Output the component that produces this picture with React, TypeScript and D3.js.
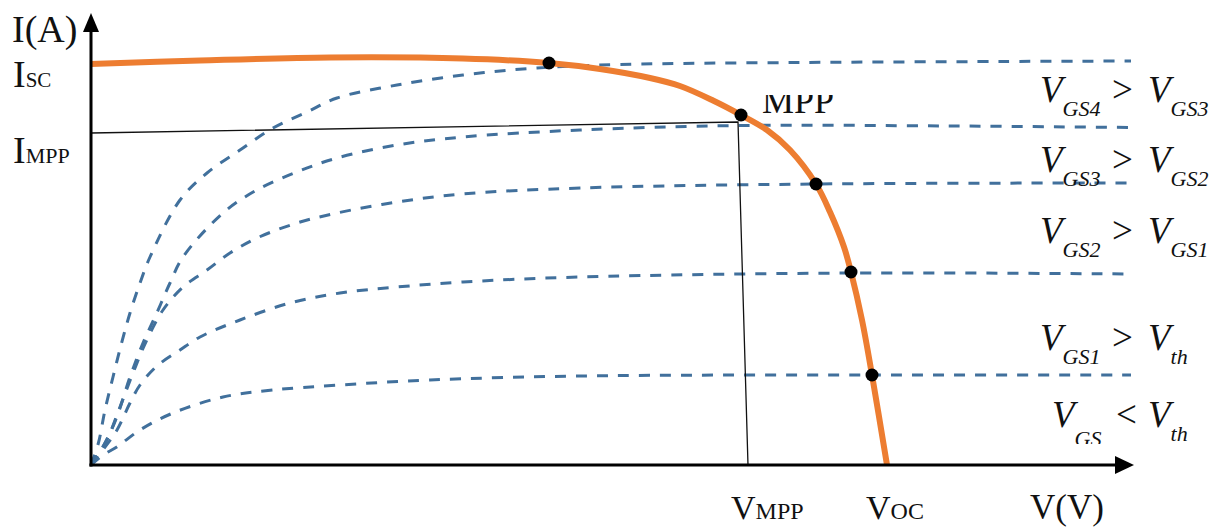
import * as d3 from 'd3'
import { useEffect, useRef } from 'react'

const W = 1220
const H = 527

// PV panel I-V curve (volts / amps)
const pvVolts = [0, 5.45, 11.95, 18.6, 22.9, 25.45, 27.95, 29.45, 31.1, 32.5, 33.8, 34.95, 36.25, 36.95, 37.65, 38.0, 38.55, 39.05, 39.8]
const pvAmps = [8.02, 8.09, 8.15, 8.13, 8.04, 7.92, 7.74, 7.58, 7.29, 7.0, 6.7, 6.3, 5.62, 5.06, 4.36, 3.86, 2.9, 1.8, 0]

// MOSFET output curves, one per gate voltage  [V, I]
const fetGS4: [number, number][] = [
  [0, 0], [0.37, 0.44], [0.7, 1.1], [1.1, 1.76], [1.53, 2.44], [1.95, 3.04], [2.45, 3.64],
  [2.95, 4.16], [4.45, 5.3], [5.8, 5.84], [7.45, 6.3], [9.1, 6.74], [10.8, 7.06], [12.3, 7.34],
  [15.3, 7.6], [18.6, 7.8], [21.95, 7.93], [26.45, 8.01], [35.45, 8.05], [45.45, 8.07], [52, 8.08],
]
const fetGS3: [number, number][] = [
  [0, 0], [0.7, 0.44], [1.29, 0.96], [1.95, 1.76], [2.6, 2.44], [3.29, 3.04], [3.95, 3.64],
  [4.6, 4.16], [6.6, 5.04], [8.29, 5.5], [10.29, 5.86], [12.3, 6.14], [15.3, 6.4], [18.6, 6.56],
  [24.45, 6.7], [32.5, 6.79], [42.95, 6.78], [52, 6.75],
]
const fetGS2: [number, number][] = [
  [0, 0], [0.79, 0.5], [1.45, 1.16], [2.1, 1.84], [2.79, 2.5], [3.6, 3.1], [4.6, 3.56],
  [5.8, 3.9], [6.95, 4.24], [8.3, 4.54], [10.3, 4.84], [12.3, 5.04], [15.3, 5.26], [18.6, 5.42],
  [24.45, 5.54], [36.25, 5.62], [52, 5.64],
]
const fetGS1: [number, number][] = [
  [0, 0], [0.7, 0.36], [1.3, 0.7], [1.95, 1.24], [2.45, 1.6], [3.3, 1.98], [4.45, 2.3],
  [5.45, 2.56], [7.45, 2.9], [9.95, 3.24], [12.45, 3.44], [15.3, 3.56], [18.6, 3.66],
  [24.45, 3.76], [38, 3.84], [52, 3.82],
]
const fetGS0: [number, number][] = [
  [0, 0], [0.6, 0.2], [1.29, 0.36], [2.45, 0.7], [4.1, 1.04], [6.6, 1.36], [9.1, 1.5],
  [12.45, 1.6], [16.95, 1.7], [24.45, 1.78], [39.05, 1.8], [52, 1.8],
]

// operating points where the PV curve meets each FET curve
const opVolts = [22.9, 32.5, 36.25, 38.0, 39.05]
const opAmps = [8.04, 7.0, 5.62, 3.86, 1.8]

// MPP projection lines
const mppGuide: [number, number][] = [[0, 6.64], [32.35, 6.86], [32.85, 0]]

const gateLabels = [
  ['GS4', '>', 'GS3'],
  ['GS3', '>', 'GS2'],
  ['GS2', '>', 'GS1'],
  ['GS1', '>', 'th'],
  ['GS', '<', 'th'],
]
const gateBaselines = [102, 172, 243, 350, 427]

const serif = "'Liberation Serif', 'Times New Roman', serif"

export default function App() {
  const ref = useRef<SVGSVGElement>(null)

  useEffect(() => {
    const svg = d3.select(ref.current)
    svg.selectAll('*').remove()

    const x = d3.scaleLinear().domain([0, 52]).range([91, 1131])
    const y = d3.scaleLinear().domain([0, 9]).range([465, 15])

    const defs = svg.append('defs')
    defs.append('clipPath').attr('id', 'mpp-clip')
      .append('rect').attr('x', 0).attr('y', 95).attr('width', W).attr('height', H)
    defs.append('clipPath').attr('id', 'gs-clip')
      .append('rect').attr('x', 0).attr('y', 0).attr('width', W).attr('height', 444)

    svg.append('rect').attr('width', W).attr('height', H).attr('fill', '#fff')

    const line = d3.line<[number, number]>()
      .x(d => x(d[0]))
      .y(d => y(d[1]))
      .curve(d3.curveCatmullRom.alpha(0.5))

    // FET curves
    svg.append('g')
      .selectAll('path')
      .data([fetGS4, fetGS3, fetGS2, fetGS1, fetGS0])
      .join('path')
      .attr('d', d => line(d))
      .attr('fill', 'none')
      .attr('stroke', '#41709c')
      .attr('stroke-width', 3)
      .attr('stroke-dasharray', '11 10')

    // MPP guides
    svg.append('path')
      .attr('d', d3.line<[number, number]>().x(d => x(d[0])).y(d => y(d[1]))(mppGuide))
      .attr('fill', 'none')
      .attr('stroke', '#111')
      .attr('stroke-width', 1.3)

    // PV curve
    const pv = pvVolts.map((v, i) => [v, pvAmps[i]] as [number, number])
    svg.append('path')
      .attr('d', line(pv))
      .attr('fill', 'none')
      .attr('stroke', '#ed7d31')
      .attr('stroke-width', 6)

    svg.append('g')
      .selectAll('circle')
      .data(opVolts)
      .join('circle')
      .attr('cx', d => x(d))
      .attr('cy', (_, i) => y(opAmps[i]))
      .attr('r', 6.5)
      .attr('fill', '#000')

    // axes
    const x0 = x(0)
    const y0 = y(0)
    svg.append('line')
      .attr('x1', x0).attr('x2', x0).attr('y1', y0 + 1.5).attr('y2', 28)
      .attr('stroke', '#000').attr('stroke-width', 3)
    svg.append('path')
      .attr('d', `M${x0},13 L${x0 - 8},32 L${x0 + 8},32 Z`)
      .attr('fill', '#000')
    svg.append('line')
      .attr('x1', x0 - 1.5).attr('x2', 1118).attr('y1', y0).attr('y2', y0)
      .attr('stroke', '#000').attr('stroke-width', 3)
    svg.append('path')
      .attr('d', `M1134,${y0} L1115,${y0 - 9} L1115,${y0 + 9} Z`)
      .attr('fill', '#000')

    // axis labels
    const label = (tx: number, ty: number, main: string, sub: string, size: number, subSize: number) => {
      const t = svg.append('text')
        .attr('x', tx).attr('y', ty)
        .attr('font-family', serif).attr('font-size', size).attr('fill', '#111')
      t.append('tspan').text(main)
      if (sub) t.append('tspan').attr('font-size', subSize).text(sub)
      return t
    }
    label(12, 42, 'I(A)', '', 38, 0)
    label(13, 87, 'I', 'SC', 38, 21)
    label(13, 163, 'I', 'MPP', 38, 22)
    label(731, 519, 'V', 'MPP', 34, 24)
    label(866, 519, 'V', 'OC', 34, 24)
    label(1030, 519, 'V(V)', '', 35, 0)

    svg.append('text')
      .attr('x', 762).attr('y', 113)
      .attr('font-family', serif).attr('font-size', 36).attr('fill', '#111')
      .attr('clip-path', 'url(#mpp-clip)')
      .text('MPP')

    // gate voltage labels
    gateLabels.forEach((row, i) => {
      const by = gateBaselines[i]
      const last = i === gateLabels.length - 1
      const vx = last ? 1052 : 1040
      const g = svg.append('g').attr('font-family', serif).attr('fill', '#111')
      const a = g.append('text').attr('x', vx).attr('y', by)
        .attr('font-size', 37).attr('font-style', 'italic')
        .attr('clip-path', last ? 'url(#gs-clip)' : null)
      a.append('tspan').text('V')
      a.append('tspan').attr('font-size', 22).attr('dy', last ? 19 : 13.5).text(row[0])
      g.append('text').attr('x', last ? 1116 : 1112).attr('y', by)
        .attr('font-size', 37).text(row[1])
      const b = g.append('text').attr('x', 1148).attr('y', by)
        .attr('font-size', 37).attr('font-style', 'italic')
      b.append('tspan').text('V')
      b.append('tspan').attr('font-size', 22).attr('dy', 13.5).text(row[2])
    })
  }, [])

  return (
    <svg
      ref={ref}
      width={W}
      height={H}
      style={{ position: 'absolute', left: 0, top: 0, background: '#fff' }}
    />
  )
}
